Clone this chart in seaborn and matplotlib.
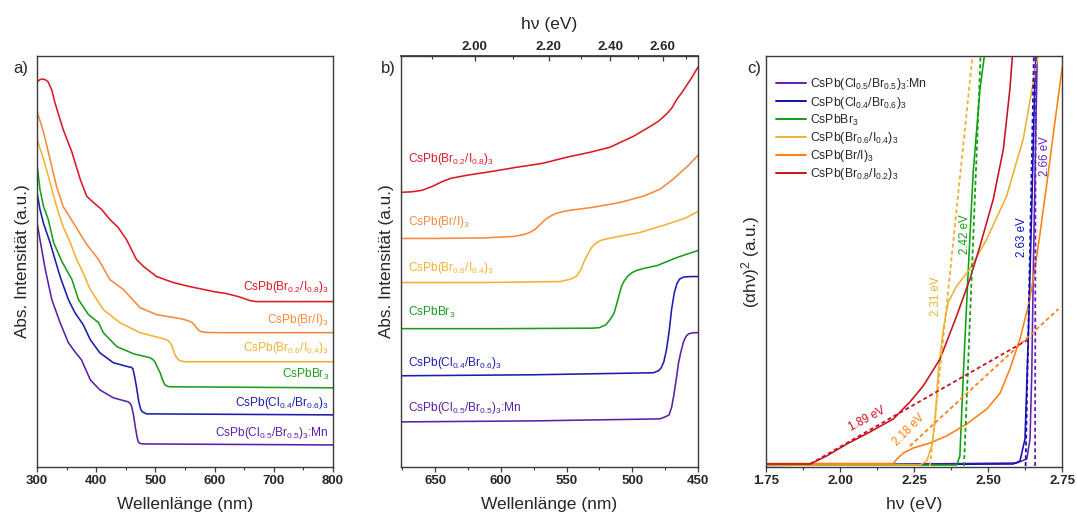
import numpy as np
import pandas as pd
import matplotlib
matplotlib.use("Agg")
import matplotlib.pyplot as plt
from matplotlib.lines import Line2D
from matplotlib.ticker import FixedLocator, MultipleLocator, FormatStrFormatter
import seaborn as sns

sns.set_theme(style="white")
plt.rcParams['font.family'] = ['Liberation Sans', 'DejaVu Sans']
plt.rcParams['mathtext.fontset'] = 'custom'
plt.rcParams['mathtext.rm'] = 'Liberation Sans'
plt.rcParams['mathtext.it'] = 'Liberation Sans:italic'
plt.rcParams['mathtext.bf'] = 'Liberation Sans:bold'
plt.rcParams['mathtext.default'] = 'regular'

# ---------------- data ----------------
labels_a = ["CsPb(Br$_{0.2}$/I$_{0.8}$)$_3$", "CsPb(Br/I)$_3$", "CsPb(Br$_{0.6}$/I$_{0.4}$)$_3$",
            "CsPbBr$_3$", "CsPb(Cl$_{0.4}$/Br$_{0.6}$)$_3$", "CsPb(Cl$_{0.5}$/Br$_{0.5}$)$_3$:Mn"]
labels_c = ["CsPb(Cl$_{0.5}$/Br$_{0.5}$)$_3$:Mn", "CsPb(Cl$_{0.4}$/Br$_{0.6}$)$_3$", "CsPbBr$_3$",
            "CsPb(Br$_{0.6}$/I$_{0.4}$)$_3$", "CsPb(Br/I)$_3$", "CsPb(Br$_{0.8}$/I$_{0.2}$)$_3$"]
gap_labels = ["2.66 eV", "2.63 eV", "2.42 eV", "2.31 eV", "2.18 eV", "1.89 eV"]

# panel a: wavelength (nm) / absorbance (a.u.)
red_a_nm = [300, 305, 310, 315, 319, 325, 330, 344, 359, 373, 384, 395, 409, 423, 437, 451, 457, 468, 480, 502, 530, 558, 598, 620, 640, 650, 660, 670, 682, 800]
red_a_v = [384, 386.5, 387, 386, 384, 376, 364, 337, 314, 287, 270, 264, 257, 247, 239, 227, 220, 207, 200, 190, 184, 180, 175, 173, 170, 168, 166, 165, 165, 165]
orange_a_nm = [300, 311, 322, 333, 344, 361, 384, 404, 423, 446, 474, 502, 542, 555, 562, 567, 572, 577, 585, 609, 800]
orange_a_v = [355, 334, 307, 280, 260, 244, 222, 207, 187, 177, 159, 152, 148, 146, 144, 141, 137, 135, 134.3, 134, 134]
yellow_a_nm = [300, 311, 322, 333, 344, 356, 367, 373, 390, 412, 440, 474, 513, 522, 527, 530, 533, 537, 542, 550, 800]
yellow_a_v = [327, 307, 284, 260, 240, 224, 207, 200, 177, 157, 144, 134, 128, 126, 122, 117, 112, 108, 106, 105, 105]
green_a_nm = [300, 305, 311, 319, 328, 342, 359, 370, 387, 404, 412, 435, 463, 491, 496, 499, 503, 508, 512, 516, 520, 525, 800]
green_a_v = [302, 277, 260, 247, 224, 205, 187, 167, 152, 144, 134, 120, 113, 109, 107, 105, 100, 94, 87, 82, 80.5, 80, 79]
blue_a_nm = [300, 305, 311, 322, 339, 353, 364, 378, 390, 406, 429, 454, 459, 462, 465, 468, 472, 475, 478, 485, 800]
blue_a_v = [274, 257, 243, 224, 190, 167, 154, 142, 127, 114, 104, 100, 99.5, 98, 90, 80, 65, 58, 55, 53, 52]
purple_a_nm = [300, 305, 314, 325, 339, 353, 364, 375, 390, 406, 429, 454, 458, 460, 463, 466, 469, 471, 474, 480, 800]
purple_a_v = [244, 227, 197, 167, 144, 124, 115, 107, 87, 77, 69, 65, 63, 60, 52, 40, 30, 25, 23.5, 23, 22]
label_a_v = [180, 147, 119, 92, 64, 34]

# panel b: zoomed absorbance, wavelength (nm)
red_b_nm = [676, 668, 660, 652, 645, 638, 626, 606, 588, 568, 550, 532, 517, 499, 486, 480, 474, 470, 466, 462, 458, 454, 450]
red_b_v = [274, 274.5, 276, 280, 284.5, 288, 291, 295, 299, 303, 309, 314, 319, 330, 340, 345, 352, 358, 367, 374, 382, 390, 399]
orange_b_nm = [676, 652, 614, 590, 582, 578, 574, 570, 566, 562, 558, 552, 545, 530, 509, 492, 479, 469, 458, 450]
orange_b_v = [228, 228, 228.5, 230, 232, 234, 237, 242, 247, 250.5, 253, 255, 256.5, 259, 264, 270, 277, 287, 300, 311]
yellow_b_nm = [676, 614, 555, 548, 545, 542, 539, 537, 534, 531, 528, 524, 518, 510, 494, 474, 460, 450]
yellow_b_v = [184, 184, 185, 187, 188.5, 191, 197, 204, 212, 219, 223, 226, 228, 230, 234, 242, 248, 255]
green_b_nm = [676, 601, 530, 525, 520, 517, 514, 512, 510, 508, 506, 503, 500, 497, 490, 481, 466, 450]
green_b_v = [138, 138, 138.5, 139, 142, 147, 153, 162, 172, 181, 186, 191, 194, 196, 198.5, 201, 209, 216]
blue_b_nm = [676, 575, 484, 480, 478, 476, 474, 472, 470, 468, 466, 464, 461, 455, 450]
blue_b_v = [91, 92, 94, 96, 99, 105, 117, 135, 158, 174, 183, 187.5, 189.5, 190, 190]
purple_b_nm = [676, 575, 479, 475, 472, 470, 468.6, 466.5, 464.8, 463, 461, 459, 457, 453, 450]
purple_b_v = [45, 46, 48, 50, 52, 60, 70, 88, 104, 115, 125, 130.5, 133, 134, 134]
label_b_v = [307, 244, 199, 154, 104, 59]

# panel c: Tauc plot, photon energy (eV) / (alpha h nu)^2 (a.u.)
purple_c_ev = [1.75, 2.597, 2.631, 2.642, 2.648, 2.653, 2.661, 2.667]
purple_c_v = [0.5, 3, 7, 27, 94, 194, 327, 420]
blue_c_ev = [1.75, 2.585, 2.608, 2.625, 2.636, 2.648, 2.659, 2.664]
blue_c_v = [1, 2, 5, 27, 127, 260, 394, 420]
green_c_ev = [1.75, 2.394, 2.405, 2.417, 2.433, 2.45, 2.473, 2.492]
green_c_v = [1, 1, 10, 94, 194, 294, 377, 420]
yellow_c_ev = [1.75, 2.27, 2.293, 2.31, 2.321, 2.332, 2.349, 2.366, 2.394, 2.439, 2.496, 2.563, 2.619, 2.653, 2.675]
yellow_c_v = [1, 1, 5, 20, 44, 94, 137, 164, 180, 197, 227, 270, 327, 384, 420]
orange_c_ev = [1.75, 2.18, 2.192, 2.214, 2.248, 2.304, 2.36, 2.428, 2.496, 2.541, 2.574, 2.608, 2.636, 2.653, 2.676, 2.704, 2.726, 2.751]
orange_c_v = [2.5, 2.5, 7, 13, 18, 23, 30, 42, 57, 73, 97, 127, 160, 187, 233, 294, 344, 399]
red_c_ev = [1.75, 1.899, 1.955, 2.023, 2.101, 2.18, 2.236, 2.281, 2.338, 2.394, 2.439, 2.473, 2.518, 2.552, 2.574, 2.585]
red_c_v = [2, 2, 10, 22, 34, 47, 64, 80, 107, 150, 187, 220, 267, 317, 377, 420]

# tangent (fit) lines in panel c
purple_fit_ev, purple_fit_v = [2.659, 2.661], [0, 411]
blue_fit_ev, blue_fit_v = [2.627, 2.655], [0, 411]
green_fit_ev, green_fit_v = [2.419, 2.475], [0, 411]
yellow_fit_ev, yellow_fit_v = [2.304, 2.448], [0, 411]
orange_fit_ev, orange_fit_v = [2.236, 2.738], [20, 157]
red_fit_ev, red_fit_v = [1.899, 2.645], [2, 128]

# gap label positions (eV, value, rotation)
gap_pos_ev = [2.693, 2.616, 2.422, 2.323, 2.234, 2.09]
gap_pos_v = [310, 229, 232, 170, 36, 47]
gap_rot = [90, 90, 90, 90, 45, 28]

colors_ab = ['#dc1a22', '#f58a3c', '#f2b233', '#1a9e1a', '#1c1cb0', '#5b1fa8']
colors_c = ['#6420b4', '#1010b8', '#10a010', '#f0b030', '#ff8010', '#c81020']

# ---------------- figure ----------------
W, H = 1077, 514
fig = plt.figure(figsize=(W / 100, H / 100), dpi=100)

def ax_at(x0, x1, y0, y1):
    return fig.add_axes([x0 / W, 1 - y1 / H, (x1 - x0) / W, (y1 - y0) / H])

ax_a = ax_at(37, 333, 56, 467)
ax_b = ax_at(401, 698, 56, 467)
ax_c = ax_at(766, 1062, 56, 467)

spine_col = '#3a3a3a'
lw = 1.15
tick_size = 9.5

# panel a
series_a = [(red_a_nm, red_a_v), (orange_a_nm, orange_a_v), (yellow_a_nm, yellow_a_v),
            (green_a_nm, green_a_v), (blue_a_nm, blue_a_v), (purple_a_nm, purple_a_v)]
for (x, y), c in zip(series_a, colors_ab):
    sns.lineplot(x=x, y=y, ax=ax_a, color=c, lw=lw, sort=False, estimator=None)
for lab, v, c in zip(labels_a, label_a_v, colors_ab):
    ax_a.text(793, v, lab, color=c, fontsize=8.6, ha='right', va='center')
ax_a.set_xlim(300, 800)
ax_a.set_ylim(0, 410)
ax_a.xaxis.set_major_locator(FixedLocator([300, 400, 500, 600, 700, 800]))
ax_a.xaxis.set_minor_locator(MultipleLocator(50))

# panel b
series_b = [(red_b_nm, red_b_v), (orange_b_nm, orange_b_v), (yellow_b_nm, yellow_b_v),
            (green_b_nm, green_b_v), (blue_b_nm, blue_b_v), (purple_b_nm, purple_b_v)]
for (x, y), c in zip(series_b, colors_ab):
    sns.lineplot(x=x, y=y, ax=ax_b, color=c, lw=lw, sort=False, estimator=None)
for lab, v, c in zip(labels_a, label_b_v, colors_ab):
    ax_b.text(670.5, v, lab, color=c, fontsize=8.6, ha='left', va='center')
ax_b.set_xlim(676, 450)
ax_b.set_ylim(0, 410)
ax_b.xaxis.set_major_locator(FixedLocator([650, 600, 550, 500, 450]))
ax_b.xaxis.set_minor_locator(MultipleLocator(25))

def nm2ev(x):
    x = np.asarray(x, dtype=float)
    return 1240.0 / np.where(np.abs(x) < 1e-9, 1e-9, x)

sec = ax_b.secondary_xaxis('top', functions=(nm2ev, nm2ev))
sec.xaxis.set_major_locator(FixedLocator([2.0, 2.2, 2.4, 2.6]))
sec.xaxis.set_minor_locator(FixedLocator([1.9, 2.1, 2.3, 2.5, 2.7]))
sec.xaxis.set_major_formatter(FormatStrFormatter('%.2f'))
sec.tick_params(axis='x', which='major', direction='in', length=3.5, width=0.9,
                color=spine_col, pad=2.5, labelsize=tick_size)
sec.tick_params(axis='x', which='minor', direction='in', length=2, width=0.8, color=spine_col)
for t in sec.get_xticklabels():
    t.set_fontweight('bold')
sec.spines['top'].set_color(spine_col)
sec.set_xlabel('hν (eV)', fontsize=12.5, labelpad=8)

# panel c
series_c = [(purple_c_ev, purple_c_v), (blue_c_ev, blue_c_v), (green_c_ev, green_c_v),
            (yellow_c_ev, yellow_c_v), (orange_c_ev, orange_c_v), (red_c_ev, red_c_v)]
fits_c = [(purple_fit_ev, purple_fit_v), (blue_fit_ev, blue_fit_v), (green_fit_ev, green_fit_v),
          (yellow_fit_ev, yellow_fit_v), (orange_fit_ev, orange_fit_v), (red_fit_ev, red_fit_v)]
for (x, y), c in zip(series_c, colors_c):
    sns.lineplot(x=x, y=y, ax=ax_c, color=c, lw=lw, sort=False, estimator=None)
for (x, y), c in zip(fits_c, colors_c):
    sns.lineplot(x=x, y=y, ax=ax_c, color=c, lw=1.3, sort=False, estimator=None,
                 linestyle=(0, (2.2, 1.6)))
for lab, ev, v, r, c in zip(gap_labels, gap_pos_ev, gap_pos_v, gap_rot, colors_c):
    ax_c.text(ev, v, lab, color=c, fontsize=8.3, rotation=r, ha='center', va='center',
              rotation_mode='anchor')
ax_c.set_xlim(1.75, 2.75)
ax_c.set_ylim(-1, 410)
ax_c.xaxis.set_major_locator(FixedLocator([1.75, 2.0, 2.25, 2.5, 2.75]))
ax_c.xaxis.set_minor_locator(MultipleLocator(0.125))
ax_c.xaxis.set_major_formatter(FormatStrFormatter('%.2f'))

handles = [Line2D([0], [0], color=c, lw=1.4) for c in colors_c]
ax_c.legend(handles, labels_c, loc='upper left', bbox_to_anchor=(0.01, 0.968), frameon=False,
            fontsize=8.8, handlelength=2.4, handletextpad=0.35, labelspacing=0.17,
            borderaxespad=0.2)

for ax in (ax_a, ax_b, ax_c):
    for s in ax.spines.values():
        s.set_color(spine_col)
        s.set_linewidth(1.0)
    ax.set_yticks([])
    ax.tick_params(axis='x', which='major', direction='out', length=3.5, width=0.9,
                   color=spine_col, pad=2.5, labelsize=tick_size, bottom=True)
    ax.tick_params(axis='x', which='minor', direction='out', length=2, width=0.8,
                   color=spine_col, bottom=True)
    for t in ax.get_xticklabels():
        t.set_fontweight('bold')

ax_a.set_xlabel('Wellenlänge (nm)', fontsize=12.5, labelpad=7, visible=True)
ax_b.set_xlabel('Wellenlänge (nm)', fontsize=12.5, labelpad=7, visible=True)
ax_c.set_xlabel('hν (eV)', fontsize=12.5, labelpad=7, visible=True)
ax_a.set_ylabel('Abs. Intensität (a.u.)', fontsize=12.3, labelpad=5, visible=True)
ax_b.set_ylabel('Abs. Intensität (a.u.)', fontsize=12.3, labelpad=5, visible=True)
ax_c.set_ylabel('(αhν)$^2$ (a.u.)', fontsize=12.3, labelpad=3, visible=True)

fig.text(21 / W, 1 - 68 / H, 'a)', fontsize=12, ha='center', va='center')
fig.text(388 / W, 1 - 68 / H, 'b)', fontsize=12, ha='center', va='center')
fig.text(754 / W, 1 - 68 / H, 'c)', fontsize=12, ha='center', va='center')

fig.savefig('out.png', dpi=100)
